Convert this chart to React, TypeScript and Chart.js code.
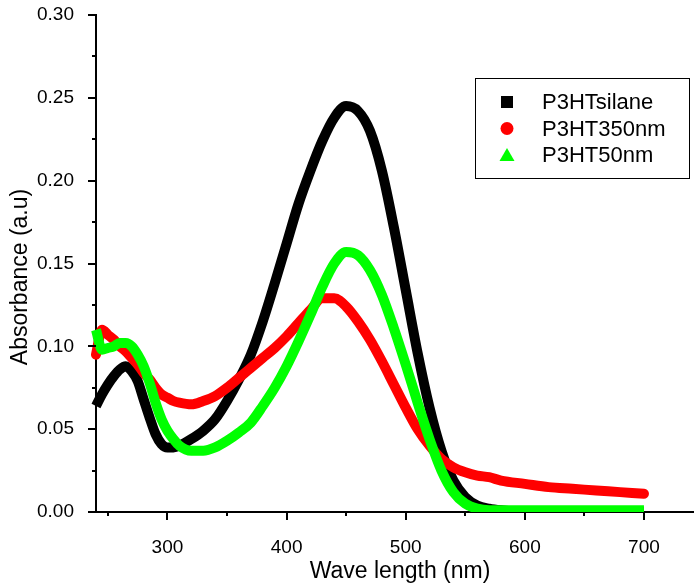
import React, { useEffect, useRef } from "react";
import { Chart, registerables } from "chart.js";

Chart.register(...registerables);

const wavelengths = [
  240, 245, 250, 255, 260, 265, 270, 275, 280, 285, 290, 295, 300, 305, 310,
  320, 330, 340, 350, 360, 370, 380, 390, 400, 410, 420, 430, 440, 450, 460,
  470, 480, 490, 500, 510, 520, 530, 540, 550, 560, 570, 580, 600, 620, 640,
  660, 680, 700,
];

const p3htSilane = [
  0.064, 0.071, 0.077, 0.082, 0.086, 0.088, 0.085, 0.079, 0.068, 0.057, 0.047,
  0.041, 0.039, 0.039, 0.04, 0.044, 0.049, 0.056, 0.067, 0.08, 0.095, 0.115,
  0.138, 0.162, 0.186, 0.206, 0.224, 0.238, 0.245, 0.242, 0.23, 0.206, 0.172,
  0.134, 0.096, 0.063, 0.037, 0.019, 0.009, 0.004, 0.002, 0.001, 0.0, 0.0,
  0.0, 0.0, 0.0, 0.0,
];

const p3ht350 = [
  0.095, 0.11, 0.107, 0.104, 0.1, 0.097, 0.093, 0.089, 0.084, 0.08, 0.075,
  0.071, 0.069, 0.067, 0.066, 0.065, 0.067, 0.07, 0.075, 0.081, 0.087, 0.093,
  0.099, 0.106, 0.114, 0.122, 0.129, 0.129, 0.124, 0.115, 0.104, 0.091, 0.077,
  0.063, 0.05, 0.04, 0.032, 0.027, 0.024, 0.022, 0.021, 0.019, 0.017, 0.015,
  0.014, 0.013, 0.012, 0.011,
];

const p3ht50 = [
  0.11, 0.098, 0.099, 0.1, 0.102, 0.102, 0.1, 0.095, 0.088, 0.078, 0.066,
  0.056, 0.049, 0.044, 0.04, 0.037, 0.037, 0.039, 0.043, 0.048, 0.054, 0.064,
  0.075, 0.088, 0.103, 0.119, 0.136, 0.15, 0.157, 0.155, 0.146, 0.131, 0.111,
  0.089, 0.066, 0.044, 0.025, 0.012, 0.005, 0.002, 0.001, 0.001, 0.001, 0.001,
  0.001, 0.001, 0.001, 0.001,
];

const seriesLabels = ["P3HTsilane", "P3HT350nm", "P3HT50nm"];
const seriesColors = ["#000000", "#ff0000", "#00ff00"];
const seriesMarkers = ["rect", "circle", "triangle"];

const xTitle = "Wave length (nm)";
const yTitle = "Absorbance (a.u)";

const xMajorTicks = [300, 400, 500, 600, 700];
const xMinorTicks = [250, 350, 450, 550, 650];
const yMajorTicks = [0, 0.05, 0.1, 0.15, 0.2, 0.25, 0.3];
const yMinorTicks = [0.025, 0.075, 0.125, 0.175, 0.225, 0.275];

const FONT = '"Liberation Sans", Arial, sans-serif';

const tickPlugin = {
  id: "tickMarks",
  afterDraw(chart: any) {
    const ctx = chart.ctx;
    const xs = chart.scales.x;
    const ys = chart.scales.y;
    const area = chart.chartArea;
    ctx.save();
    ctx.strokeStyle = "#000";
    ctx.lineWidth = 2;
    ctx.beginPath();
    xMajorTicks.forEach((v) => {
      const px = Math.round(xs.getPixelForValue(v));
      ctx.moveTo(px, area.bottom);
      ctx.lineTo(px, area.bottom + 8);
    });
    xMinorTicks.forEach((v) => {
      const px = Math.round(xs.getPixelForValue(v));
      ctx.moveTo(px, area.bottom);
      ctx.lineTo(px, area.bottom + 4);
    });
    yMajorTicks.forEach((v) => {
      const py = Math.round(ys.getPixelForValue(v));
      ctx.moveTo(area.left, py);
      ctx.lineTo(area.left - 8, py);
    });
    yMinorTicks.forEach((v) => {
      const py = Math.round(ys.getPixelForValue(v));
      ctx.moveTo(area.left, py);
      ctx.lineTo(area.left - 4, py);
    });
    ctx.stroke();

    // axis titles
    ctx.fillStyle = "#000";
    ctx.font = `23px ${FONT}`;
    ctx.textAlign = "center";
    ctx.textBaseline = "middle";
    ctx.fillText(xTitle, 400, 572);
    ctx.translate(21, 277);
    ctx.rotate(-Math.PI / 2);
    ctx.fillText(yTitle, 0, 0);
    ctx.restore();
  },
};

const legendPlugin = {
  id: "boxLegend",
  afterDraw(chart: any) {
    const ctx = chart.ctx;
    const bx = 475;
    const by = 78;
    const bw = 214;
    const bh = 100;
    ctx.save();
    ctx.fillStyle = "#fff";
    ctx.fillRect(bx, by, bw, bh);
    ctx.strokeStyle = "#000";
    ctx.lineWidth = 1;
    ctx.strokeRect(bx + 0.5, by + 0.5, bw, bh);
    chart.data.datasets.forEach((ds: any, i: number) => {
      const cy = by + 24 + i * 26.5;
      const mx = bx + 32;
      ctx.fillStyle = ds.borderColor;
      const m = seriesMarkers[i];
      if (m === "rect") {
        ctx.fillRect(mx - 6, cy - 6, 12, 12);
      } else if (m === "circle") {
        ctx.beginPath();
        ctx.arc(mx, cy, 6.5, 0, Math.PI * 2);
        ctx.fill();
      } else {
        ctx.beginPath();
        ctx.moveTo(mx, cy - 7);
        ctx.lineTo(mx + 7.5, cy + 6);
        ctx.lineTo(mx - 7.5, cy + 6);
        ctx.closePath();
        ctx.fill();
      }
      ctx.fillStyle = "#000";
      ctx.font = `22px ${FONT}`;
      ctx.textBaseline = "middle";
      ctx.textAlign = "left";
      ctx.fillText(ds.label, bx + 67, cy + 1);
    });
    ctx.restore();
  },
};

export default function App() {
  const canvasRef = useRef<HTMLCanvasElement | null>(null);

  useEffect(() => {
    document.body.style.margin = "0";
    const canvas = canvasRef.current;
    if (!canvas) return;
    const seriesValues = [p3htSilane, p3ht350, p3ht50];
    const datasets = seriesLabels.map((label, i) => ({
      label,
      data: wavelengths.map((w, j) => ({ x: w, y: seriesValues[i][j] })),
      borderColor: seriesColors[i],
      backgroundColor: seriesColors[i],
      borderWidth: 10,
      pointRadius: 0,
      cubicInterpolationMode: "monotone" as const,
      borderCapStyle: (i === 1 ? "round" : "butt") as any,
      borderJoinStyle: "round" as const,
      order: 3 - i,
      clip: { left: 6, right: 6, top: 6, bottom: 0 },
    }));

    const chart = new Chart(canvas, {
      type: "line",
      data: { datasets },
      plugins: [tickPlugin, legendPlugin],
      options: {
        animation: false,
        responsive: false,
        devicePixelRatio: 1,
        layout: { padding: { top: 15, right: 0, bottom: 0, left: 0 }, autoPadding: false } as any,
        plugins: {
          legend: { display: false },
          tooltip: { enabled: false },
        },
        scales: {
          x: {
            type: "linear",
            min: 240,
            max: 742,
            grid: { display: false },
            border: { display: true, color: "#000", width: 2 },
            ticks: {
              color: "#000",
              font: { family: FONT, size: 19 },
              padding: 16,
              maxRotation: 0,
              callback: (v: any) => String(v),
            },
            afterBuildTicks: (scale: any) => {
              scale.ticks = xMajorTicks.map((v) => ({ value: v }));
            },
            afterFit: (scale: any) => {
              scale.height = 75;
              scale.paddingLeft = 0;
              scale.paddingRight = 0;
            },
            title: { display: false },
          },
          y: {
            type: "linear",
            min: 0,
            max: 0.3,
            grid: { display: false },
            border: { display: true, color: "#000", width: 2 },
            ticks: {
              color: "#000",
              font: { family: FONT, size: 19 },
              padding: 14,
              callback: (v: any) => Number(v).toFixed(2),
            },
            afterBuildTicks: (scale: any) => {
              scale.ticks = yMajorTicks.map((v) => ({ value: v }));
            },
            afterFit: (scale: any) => {
              scale.width = 96;
              scale.paddingTop = 0;
              scale.paddingBottom = 0;
            },
            title: { display: false },
          },
        },
      },
    });
    return () => chart.destroy();
  }, []);

  return (
    <div style={{ width: 694, height: 587, position: "relative", background: "#fff" }}>
      <canvas ref={canvasRef} width={694} height={587} style={{ display: "block" }} />
    </div>
  );
}
